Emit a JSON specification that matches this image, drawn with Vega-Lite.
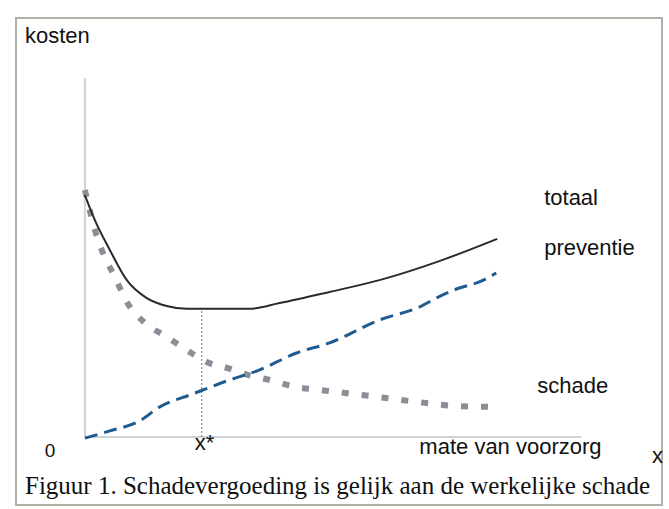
{
  "$schema": "https://vega.github.io/schema/vega-lite/v6.json",
  "autosize": {"type": "fit", "contains": "padding"},
  "width": 669,
  "height": 509,
  "padding": {"left": 16, "top": 18, "right": 6, "bottom": 4},
  "background": "white",
  "config": {"view": {"stroke": "#b1b0a6", "strokeWidth": 2}},
  "datasets": {
    "curves": [
      {"series": "totaal", "x": 0, "y": 67.4},
      {"series": "totaal", "x": 2.41, "y": 60.4},
      {"series": "totaal", "x": 6.02, "y": 52.1},
      {"series": "totaal", "x": 10.12, "y": 43.7},
      {"series": "totaal", "x": 14.94, "y": 38.7},
      {"series": "totaal", "x": 19.76, "y": 36.5},
      {"series": "totaal", "x": 24.58, "y": 35.7},
      {"series": "totaal", "x": 39.76, "y": 35.7},
      {"series": "totaal", "x": 46.99, "y": 37.3},
      {"series": "totaal", "x": 59.04, "y": 40.4},
      {"series": "totaal", "x": 71.08, "y": 43.7},
      {"series": "totaal", "x": 85.54, "y": 49.0},
      {"series": "totaal", "x": 99.52, "y": 55.2},
      {"series": "schade", "x": 0, "y": 68.8},
      {"series": "schade", "x": 2.41, "y": 57.7},
      {"series": "schade", "x": 4.34, "y": 51.3},
      {"series": "schade", "x": 7.23, "y": 44.6},
      {"series": "schade", "x": 10.12, "y": 37.6},
      {"series": "schade", "x": 14.46, "y": 31.8},
      {"series": "schade", "x": 19.76, "y": 27.9},
      {"series": "schade", "x": 24.58, "y": 24.2},
      {"series": "schade", "x": 29.4, "y": 20.9},
      {"series": "schade", "x": 34.46, "y": 19.2},
      {"series": "schade", "x": 39.28, "y": 17.3},
      {"series": "schade", "x": 44.58, "y": 15.9},
      {"series": "schade", "x": 49.88, "y": 14.2},
      {"series": "schade", "x": 59.04, "y": 12.8},
      {"series": "schade", "x": 71.08, "y": 11.1},
      {"series": "schade", "x": 80.72, "y": 9.7},
      {"series": "schade", "x": 90.36, "y": 8.6},
      {"series": "schade", "x": 100, "y": 8.4},
      {"series": "preventie", "x": 0, "y": -0.3},
      {"series": "preventie", "x": 6.02, "y": 1.7},
      {"series": "preventie", "x": 13.25, "y": 4.5},
      {"series": "preventie", "x": 18.07, "y": 8.4},
      {"series": "preventie", "x": 26.02, "y": 12.0},
      {"series": "preventie", "x": 34.22, "y": 15.6},
      {"series": "preventie", "x": 42.17, "y": 18.7},
      {"series": "preventie", "x": 51.08, "y": 23.4},
      {"series": "preventie", "x": 59.04, "y": 26.2},
      {"series": "preventie", "x": 71.08, "y": 32.6},
      {"series": "preventie", "x": 80.72, "y": 36.2},
      {"series": "preventie", "x": 84.82, "y": 38.7},
      {"series": "preventie", "x": 90.36, "y": 41.5},
      {"series": "preventie", "x": 95.18, "y": 43.2},
      {"series": "preventie", "x": 99.28, "y": 45.7}
    ],
    "labels": [
      {"label": "kosten", "x": -14.46, "y": 109.75},
      {"label": "totaal", "x": 110.84, "y": 64.62},
      {"label": "preventie", "x": 110.84, "y": 50.7},
      {"label": "schade", "x": 109.16, "y": 12.26},
      {"label": "x*", "x": 26.51, "y": -3.62},
      {"label": "mate van voorzorg", "x": 80.72, "y": -4.74},
      {"label": "x", "x": 136.87, "y": -7.24}
    ]
  },
  "encoding": {
    "x": {"type": "quantitative", "scale": {"domain": [-16.627, 139.277], "nice": false, "zero": false}, "axis": null},
    "y": {"type": "quantitative", "scale": {"domain": [-18.942, 116.713], "nice": false, "zero": false}, "axis": null}
  },
  "layer": [
    {
      "data": {"values": [{"x1": 0, "x2": 0, "y1": 0, "y2": 100}, {"x1": 0, "x2": 119.76, "y1": 0, "y2": 0}]},
      "mark": {"type": "rule", "color": "#d2d2d2", "strokeWidth": 2},
      "encoding": {
        "x": {"field": "x1", "type": "quantitative"},
        "x2": {"field": "x2"},
        "y": {"field": "y1", "type": "quantitative"},
        "y2": {"field": "y2"}
      }
    },
    {
      "data": {"values": [{"x": 28.19, "y1": 0, "y2": 35.7}]},
      "mark": {"type": "rule", "color": "#777777", "strokeWidth": 1, "strokeDash": [2, 2]},
      "encoding": {
        "x": {"field": "x", "type": "quantitative"},
        "y": {"field": "y1", "type": "quantitative"},
        "y2": {"field": "y2"}
      }
    },
    {
      "data": {"name": "curves"},
      "transform": [{"filter": "datum.series === 'schade'"}],
      "mark": {"type": "line", "color": "#8a8f97", "strokeWidth": 6, "strokeDash": [7, 13], "interpolate": "monotone"},
      "encoding": {"x": {"field": "x", "type": "quantitative"}, "y": {"field": "y", "type": "quantitative"}}
    },
    {
      "data": {"name": "curves"},
      "transform": [{"filter": "datum.series === 'preventie'"}],
      "mark": {"type": "line", "color": "#1f5b8e", "strokeWidth": 3, "strokeDash": [13, 7], "interpolate": "monotone"},
      "encoding": {"x": {"field": "x", "type": "quantitative"}, "y": {"field": "y", "type": "quantitative"}}
    },
    {
      "data": {"name": "curves"},
      "transform": [{"filter": "datum.series === 'totaal'"}],
      "mark": {"type": "line", "color": "#2a2a2a", "strokeWidth": 2, "interpolate": "monotone"},
      "encoding": {"x": {"field": "x", "type": "quantitative"}, "y": {"field": "y", "type": "quantitative"}}
    },
    {
      "data": {"name": "labels"},
      "mark": {"type": "text", "align": "left", "baseline": "alphabetic", "font": "Liberation Sans", "fontSize": 22, "color": "#111111", "letterSpacing": -0.3},
      "encoding": {
        "x": {"field": "x", "type": "quantitative"},
        "y": {"field": "y", "type": "quantitative"},
        "text": {"field": "label"}
      }
    },
    {
      "data": {"values": [{"label": "0", "x": -8.43, "y": -5.57}]},
      "mark": {"type": "text", "align": "center", "baseline": "alphabetic", "font": "Liberation Sans", "fontSize": 19, "color": "#111111"},
      "encoding": {
        "x": {"field": "x", "type": "quantitative"},
        "y": {"field": "y", "type": "quantitative"},
        "text": {"field": "label"}
      }
    },
    {
      "data": {"values": [{"label": "Figuur 1. Schadevergoeding is gelijk aan de werkelijke schade", "x": -14.46, "y": -15.88}]},
      "mark": {"type": "text", "align": "left", "baseline": "alphabetic", "font": "Liberation Serif", "fontSize": 25, "color": "#111111"},
      "encoding": {
        "x": {"field": "x", "type": "quantitative"},
        "y": {"field": "y", "type": "quantitative"},
        "text": {"field": "label"}
      }
    }
  ]
}
